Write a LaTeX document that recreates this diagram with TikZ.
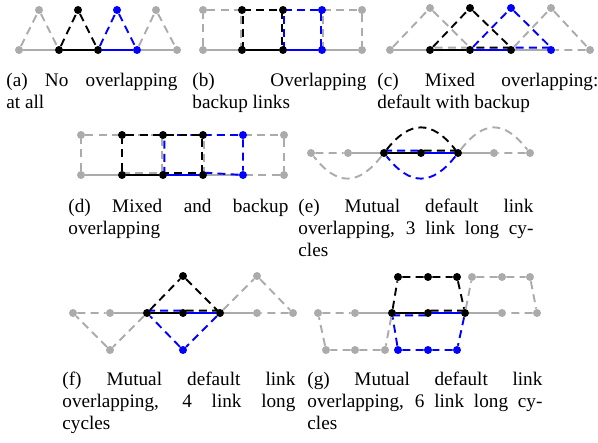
\documentclass[tikz,border=0pt]{standalone}
\usepackage{fontspec}
\setmainfont{Liberation Serif}
\usetikzlibrary{backgrounds}
\definecolor{lkgray}{HTML}{ABABAB}
\definecolor{lkblue}{HTML}{0000FF}
\tikzset{
    vtx/.style={circle, inner sep=0pt, minimum size=4pt},
    gv/.style={vtx, fill=lkgray},
    kv/.style={vtx, fill=black},
    bv/.style={vtx, fill=lkblue},
    dflt/.style={line width=1.3pt},
    bkup/.style={line width=0.95pt, dash pattern=on 4pt off 2.6pt},
    capt/.style={anchor=north west, inner sep=0pt, align=justify,
        font=\fontsize{9.6pt}{11pt}\selectfont},
}

\begin{document}
\begin{tikzpicture}[x=0.5pt, y=-0.5pt]
        \useasboundingbox (0,0) rectangle (598,443);

        % ----------------------------------------------------
        % (a) NO OVERLAPPING
        % ----------------------------------------------------
        \node[gv] (a1) at (19,50) {};
        \node[kv] (a2) at (59,50) {};
        \node[kv] (a3) at (98,50) {};
        \node[bv] (a4) at (137,50) {};
        \node[gv] (a5) at (177,50) {};
        \node[gv] (at1) at (39,10) {};
        \node[kv] (at2) at (78,10) {};
        \node[bv] (at3) at (117,10) {};
        \node[gv] (at4) at (156,10) {};
        \begin{scope}[on background layer]
            \draw[dflt, lkgray] (a1) -- (a2) (a4) -- (a5);
            \draw[dflt] (a2) -- (a3);
            \draw[dflt, lkblue] (a3) -- (a4);
            \draw[bkup, lkgray] (a1) -- (at1) -- (a2) (a4) -- (at4) -- (a5);
            \draw[bkup] (a2) -- (at2) -- (a3);
            \draw[bkup, lkblue] (a3) -- (at3) -- (a4);
        \end{scope}
        \node[capt, text width=85.5pt] (capa) at (6,72.5) {(a) No overlapping\linebreak at all};

        % ----------------------------------------------------
        % (b) OVERLAPPING BACKUP LINKS
        % ----------------------------------------------------
        \node[gv] (b1) at (203,50) {};
        \node[kv] (b2) at (242,50) {};
        \node[kv] (b3) at (283,50) {};
        \node[bv] (b4) at (322,50) {};
        \node[gv] (b5) at (362,50) {};
        \node[gv] (bt1) at (203,10) {};
        \node[kv] (bt2) at (242,10) {};
        \node[kv] (bt3) at (283,10) {};
        \node[bv] (bt4) at (322,10) {};
        \node[gv] (bt5) at (362,10) {};
        \begin{scope}[on background layer]
            \draw[dflt, lkgray] (b1) -- (b2) (b4) -- (b5);
            \draw[dflt] (b2) -- (b3);
            \draw[dflt, lkblue] (b3) -- (b4);
            \draw[bkup, lkgray] (b1) -- (bt1) -- ([xshift=-0.7pt]bt2.center) -- ([xshift=-0.7pt]b2.center);
            \draw[bkup, lkgray] ([xshift=0.7pt]b4.center) -- ([xshift=0.7pt]bt4.center) -- (bt5) -- (b5);
            \draw[bkup] ([xshift=0.7pt]b2.center) -- ([xshift=0.7pt]bt2.center) -- ([xshift=-0.7pt]bt3.center) -- ([xshift=-0.7pt]b3.center);
            \draw[bkup, lkblue] ([xshift=0.7pt]b3.center) -- ([xshift=0.7pt]bt3.center) -- ([xshift=-0.7pt]bt4.center) -- ([xshift=-0.7pt]b4.center);
        \end{scope}
        \node[capt, text width=87pt] (capb) at (192,72.5) {(b) Overlapping\linebreak backup links};

        % ----------------------------------------------------
        % (c) MIXED OVERLAPPING: DEFAULT WITH BACKUP
        % ----------------------------------------------------
        \node[gv] (c1) at (390,50) {};
        \node[kv] (c2) at (430,50) {};
        \node[kv] (c3) at (470,50) {};
        \node[kv] (c4) at (511,50) {};
        \node[bv] (c5) at (551,50) {};
        \node[gv] (c6) at (590,50) {};
        \node[gv] (ct1) at (430,8) {};
        \node[kv] (ct2) at (470,8) {};
        \node[bv] (ct3) at (511,8) {};
        \node[gv] (ct4) at (551,8) {};
        \begin{scope}[on background layer]
            \draw[dflt, lkgray] (c1) -- (c2) (c4) -- (c5);
            \draw[dflt] (c2) -- (c3);
            \draw[dflt, lkblue] (c3) -- (c4);
            \draw[bkup, lkgray] (c1) -- (ct1) -- ([yshift=1.2pt]c3.center) -- ([yshift=1.2pt]c2.center);
            \draw[bkup, lkgray] (c4) -- (ct4) -- (c6) -- (c5);
            \draw[bkup, lkblue] (c3) -- (ct3) -- ([yshift=1.2pt]c5.center) -- ([yshift=1.2pt]c4.center);
            \draw[bkup] (c2) -- (ct2) -- ([yshift=1.2pt]c4.center) -- ([yshift=1.2pt]c3.center);
        \end{scope}
        \node[capt, text width=110.5pt] (capc) at (377,72.5) {(c) Mixed overlapping:\linebreak default with backup};

        % ----------------------------------------------------
        % (d) MIXED AND BACKUP OVERLAPPING
        % ----------------------------------------------------
        \node[gv] (d1) at (81,175) {};
        \node[kv] (d2) at (122,175) {};
        \node[kv] (d3) at (163,175) {};
        \node[kv] (d4) at (203,175) {};
        \node[bv] (d5) at (243,175) {};
        \node[gv] (d6) at (284,175) {};
        \node[gv] (dt1) at (81,135) {};
        \node[kv] (dt2) at (122,135) {};
        \node[kv] (dt3) at (163,135) {};
        \node[kv] (dt4) at (203,135) {};
        \node[bv] (dt5) at (243,135) {};
        \node[gv] (dt6) at (284,135) {};
        \begin{scope}[on background layer]
            \draw[dflt, lkgray] (d1) -- (d2) (d4) -- (d5);
            \draw[dflt] (d2) -- (d3);
            \draw[dflt, lkblue] (d3) -- (d4);
            \draw[bkup, lkgray] (d1) -- (dt1) -- ([xshift=-0.7pt]dt3.center) -- ([xshift=-0.7pt, yshift=1.2pt]d3.center) -- ([yshift=1.2pt]d2.center);
            \draw[bkup, lkgray] ([xshift=0.7pt]d4.center) -- ([xshift=0.7pt]dt4.center) -- (dt6) -- (d6) -- (d5);
            \draw[bkup, lkblue] ([xshift=0.7pt]d3.center) -- ([xshift=0.7pt]dt3.center) -- (dt5) -- (d5) -- ([yshift=1.2pt]d4.center);
            \draw[bkup] (d2) -- (dt2) -- ([xshift=-0.7pt]dt4.center) -- ([xshift=-0.7pt, yshift=1.2pt]d4.center) -- ([yshift=1.2pt]d3.center);
        \end{scope}
        \node[capt, text width=110pt] (capd) at (68,198.5) {(d) Mixed and backup\linebreak overlapping};

        % ----------------------------------------------------
        % (e) MUTUAL DEFAULT LINK OVERLAPPING, 3 LINK CYCLES
        % ----------------------------------------------------
        \node[gv] (e1) at (311,153) {};
        \node[gv] (e2) at (348,153) {};
        \node[kv] (e3) at (384,153) {};
        \node[kv] (e4) at (421,153) {};
        \node[kv] (e5) at (458,153) {};
        \node[gv] (e6) at (494,153) {};
        \node[gv] (e7) at (530,153) {};
        \begin{scope}[on background layer]
            \draw[dflt, lkgray] (e2) -- (e3) (e5) -- (e6);
            \draw[dflt] (e3) -- (e4);
            \draw[dflt, lkblue] (e4) -- (e5);
            \draw[bkup, lkgray] (e3) .. controls +(-26,33) and +(26,33) .. (e1) -- (e2);
            \draw[bkup, lkgray] (e5) .. controls +(26,-33) and +(-26,-33) .. (e7) -- (e6);
            \draw[bkup, lkblue] (e5) .. controls +(-26,33) and +(26,33) .. (e3)
                ([yshift=1.2pt]e3.center) -- ([yshift=1.2pt]e4.center);
            \draw[bkup] (e3) .. controls +(26,-33) and +(-26,-33) .. (e5)
                ([yshift=1.2pt]e5.center) -- ([yshift=1.2pt]e4.center);
        \end{scope}
        \node[capt, text width=117.5pt] (cape) at (298,198.5) {(e) Mutual default link\linebreak overlapping, 3 link long cy-\linebreak cles};

        % ----------------------------------------------------
        % (f) MUTUAL DEFAULT LINK OVERLAPPING, 4 LINK CYCLES
        % ----------------------------------------------------
        \node[gv] (f1) at (73,313) {};
        \node[gv] (f2) at (110,313) {};
        \node[kv] (f3) at (147,313) {};
        \node[kv] (f4) at (183,313) {};
        \node[kv] (f5) at (220,313) {};
        \node[gv] (f6) at (257,313) {};
        \node[gv] (f7) at (293,313) {};
        \node[gv] (fl) at (110,350) {};
        \node[kv] (ft) at (183,276) {};
        \node[bv] (fb) at (183,350) {};
        \node[gv] (fr) at (257,276) {};
        \begin{scope}[on background layer]
            \draw[dflt, lkgray] (f2) -- (f3) (f5) -- (f6);
            \draw[dflt] (f3) -- (f4);
            \draw[dflt, lkblue] (f4) -- (f5);
            \draw[bkup, lkgray] (f3) -- (fl) -- (f1) -- (f2);
            \draw[bkup, lkgray] (f5) -- (fr) -- (f7) -- (f6);
            \draw[bkup, lkblue] (f5) -- (fb) -- (f3)
                ([yshift=1.2pt]f3.center) -- ([yshift=1.2pt]f4.center);
            \draw[bkup] (f3) -- (ft) -- (f5)
                ([yshift=1.2pt]f5.center) -- ([yshift=1.2pt]f4.center);
        \end{scope}
        \node[capt, text width=116.5pt] (capf) at (62,371.5) {(f) Mutual default link\linebreak overlapping, 4 link long\linebreak cycles};

        % ----------------------------------------------------
        % (g) MUTUAL DEFAULT LINK OVERLAPPING, 6 LINK CYCLES
        % ----------------------------------------------------
        \node[gv] (g1) at (318,313) {};
        \node[gv] (g2) at (355,313) {};
        \node[kv] (g3) at (392,313) {};
        \node[kv] (g4) at (428,313) {};
        \node[kv] (g5) at (465,313) {};
        \node[gv] (g6) at (502,313) {};
        \node[gv] (g7) at (537,313) {};
        \node[kv] (gt1) at (398,277) {};
        \node[kv] (gt2) at (428,277) {};
        \node[kv] (gt3) at (457,277) {};
        \node[bv] (gb1) at (398,350) {};
        \node[bv] (gb2) at (428,350) {};
        \node[bv] (gb3) at (457,350) {};
        \node[gv] (gl1) at (326,350) {};
        \node[gv] (gl2) at (355,350) {};
        \node[gv] (gl3) at (385,350) {};
        \node[gv] (gr1) at (472,277) {};
        \node[gv] (gr2) at (502,277) {};
        \node[gv] (gr3) at (530,277) {};
        \begin{scope}[on background layer]
            \draw[dflt, lkgray] (g2) -- (g3) (g5) -- (g6);
            \draw[dflt] (g3) -- (g4);
            \draw[dflt, lkblue] (g4) -- (g5);
            \draw[bkup, lkgray] (g3) -- (gl3) -- (gl2) -- (gl1) -- (g1) -- (g2);
            \draw[bkup, lkgray] (g5) -- (gr1) -- (gr2) -- (gr3) -- (g7) -- (g6);
            \draw[bkup, lkblue] (g5) -- (gb3) -- (gb2) -- (gb1) -- (g3)
                ([yshift=-1.2pt]g3.center) -- ([yshift=-1.2pt]g4.center);
            \draw[bkup] (g3) -- (gt1) -- (gt2) -- (gt3) -- (g5)
                ([yshift=1.2pt]g5.center) -- ([yshift=1.2pt]g4.center);
        \end{scope}
        \node[capt, text width=117.5pt] (capg) at (307,371.5) {(g) Mutual default link\linebreak overlapping, 6 link long cy-\linebreak cles};
    \end{tikzpicture}
\end{document}
